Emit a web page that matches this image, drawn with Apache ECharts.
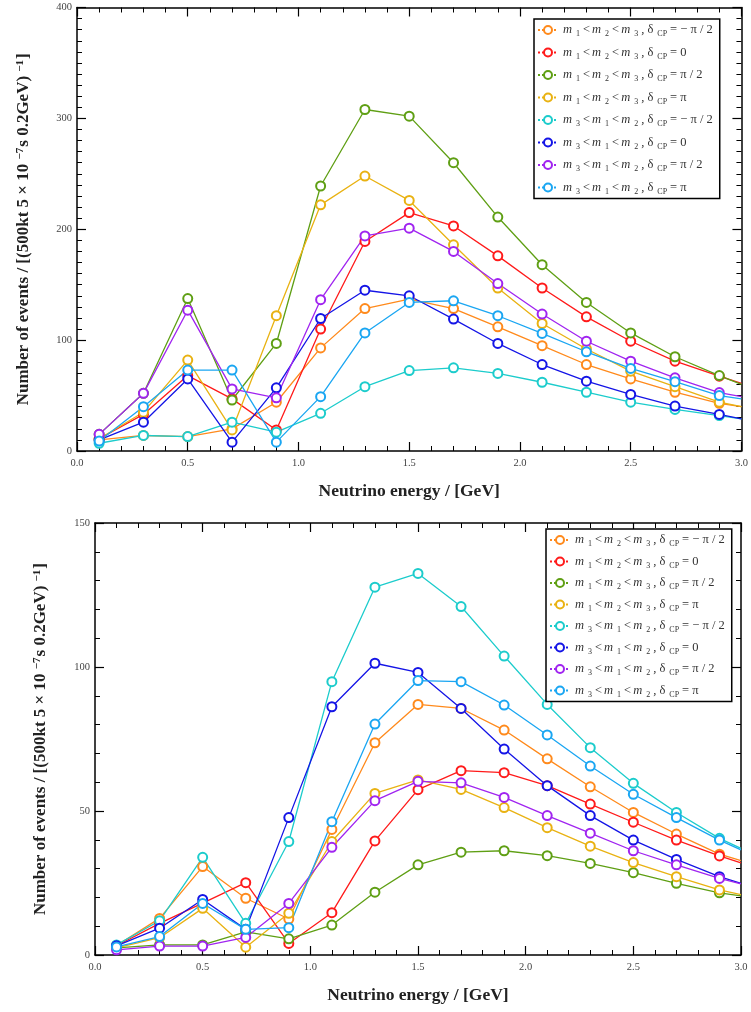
<!DOCTYPE html>
<html>
<head>
<meta charset="utf-8">
<script src="https://cdn.jsdelivr.net/npm/echarts@6/dist/echarts.min.js"></script>
<style>
  html, body { margin: 0; padding: 0; background: #ffffff; }
  #chart { width: 751px; height: 1012px; }
</style>
</head>
<body>
<div id="chart"></div>
<script>
// Energy bin centres (GeV); the final column is where each curve meets the 3.0 GeV edge.
const energy = [0.1, 0.3, 0.5, 0.7, 0.9, 1.1, 1.3, 1.5, 1.7, 1.9, 2.1, 2.3, 2.5, 2.7, 2.9, 3.0];

// Upper panel: event counts per 0.2 GeV bin
const upperNHminusHalfPi = [10, 14, 13, 20, 44, 93, 128.5, 137, 128.5, 112, 95, 78, 65, 53, 43, 40];
const upperNHzero        = [11, 33, 68, 47, 19, 110, 189, 215, 203, 176, 147, 121, 99, 81, 67.5, 61];
const upperNHhalfPi      = [15, 52, 137.5, 46, 97, 239, 308, 302, 260, 211, 168, 134, 106.5, 85, 68, 60];
const upperNHpi          = [11, 35, 82, 19, 122, 222, 248, 226, 186, 147, 115, 92, 72, 58, 44, 40];
const upperIHminusHalfPi = [7, 14, 13, 26, 17, 34, 58, 72.5, 75, 70, 62, 53, 44, 37.5, 32, 29];
const upperIHzero        = [10, 26, 65, 8, 57, 119.5, 145, 140, 119, 97, 78, 63, 51, 40.5, 33, 29];
const upperIHhalfPi      = [15, 52, 127, 56, 48, 136.5, 194, 201, 180, 151, 123.5, 99, 81, 66, 52.7, 49];
const upperIHpi          = [9, 40, 73, 73, 8, 49, 106.5, 134, 135.5, 122, 106, 89.5, 74.5, 62.5, 50, 47];

// Lower panel: event counts per 0.2 GeV bin
const lowerNHminusHalfPi = [3.3, 12.7, 30.7, 19.7, 12.5, 43.6, 73.7, 87, 85.6, 78.1, 68.1, 58.4, 49.5, 42, 35, 32.8];
const lowerNHzero        = [3.2, 11, 18, 25.1, 4, 14.7, 39.6, 57.4, 64, 63.3, 58.8, 52.4, 46.1, 39.9, 34.4, 32];
const lowerNHhalfPi      = [2.5, 3.5, 3.5, 8, 5.6, 10.4, 21.8, 31.3, 35.7, 36.2, 34.5, 31.8, 28.6, 24.9, 21.6, 20.5];
const lowerNHpi          = [2.5, 6, 16.2, 2.7, 14.5, 39.4, 56.1, 60.8, 57.5, 51.2, 44.2, 37.8, 32.1, 27.2, 22.6, 21];
const lowerIHminusHalfPi = [3.5, 11.9, 33.9, 11, 39.4, 94.9, 127.7, 132.5, 121, 103.8, 87, 72, 59.6, 49.5, 40.5, 37];
const lowerIHzero        = [3.2, 9.3, 19.3, 8.9, 47.7, 86.2, 101.3, 98.1, 85.6, 71.5, 58.8, 48.4, 39.9, 33.2, 27.2, 24.9];
const lowerIHhalfPi      = [1.8, 3.1, 3.1, 6.1, 17.9, 37.4, 53.6, 60.3, 59.8, 54.7, 48.4, 42.3, 36.2, 31.3, 26.6, 24.7];
const lowerIHpi          = [2.8, 6.4, 17.9, 8.9, 9.5, 46.3, 80.2, 95.3, 94.9, 86.8, 76.4, 65.6, 55.8, 47.7, 39.9, 36.5];

const seriesNames = ['NH -pi/2', 'NH 0', 'NH pi/2', 'NH pi', 'IH -pi/2', 'IH 0', 'IH pi/2', 'IH pi'];
const seriesColors = ['#ff8a1c', '#ff1a1a', '#5f9f14', '#e9b212', '#1ccccc', '#1414e6', '#a024f0', '#1aa6f2'];
const upperValues = [upperNHminusHalfPi, upperNHzero, upperNHhalfPi, upperNHpi,
                     upperIHminusHalfPi, upperIHzero, upperIHhalfPi, upperIHpi];
const lowerValues = [lowerNHminusHalfPi, lowerNHzero, lowerNHhalfPi, lowerNHpi,
                     lowerIHminusHalfPi, lowerIHzero, lowerIHhalfPi, lowerIHpi];

const xTickLabels = ['0.0', '0.5', '1.0', '1.5', '2.0', '2.5', '3.0'];
const serif = 'Liberation Serif, Times New Roman, serif';

// Legend entries: mass ordering and CP phase, written with rich text subscripts
const orderingNH = '{m|m}{s| 1}{t|<}{m|m}{s| 2}{t|<}{m|m}{s| 3}{t|, δ}{s|CP}';
const orderingIH = '{m|m}{s| 3}{t|<}{m|m}{s| 1}{t|<}{m|m}{s| 2}{t|, δ}{s|CP}';
const phaseText = ['{t|= − π / 2}', '{t|= 0}', '{t|= π / 2}', '{t|= π}'];
function legendLabel(name) {
  const i = seriesNames.indexOf(name);
  return (i < 4 ? orderingNH : orderingIH) + phaseText[i % 4];
}

function buildSeries(values, axisIndex) {
  return values.map((vals, i) => ({
    name: seriesNames[i],
    type: 'line',
    xAxisIndex: axisIndex,
    yAxisIndex: axisIndex,
    symbol: 'emptyCircle',
    symbolSize: 9,
    showSymbol: true,
    data: vals.map((v, k) => k === vals.length - 1
      ? { value: [energy[k], v], symbol: 'none' }
      : [energy[k], v]),
    lineStyle: { color: seriesColors[i], width: 1.3 },
    itemStyle: { color: seriesColors[i], borderColor: seriesColors[i], borderWidth: 1.6 },
    emphasis: { disabled: true }
  }));
}

const tickStyle = {
  axisLine: { show: true, onZero: false, lineStyle: { color: '#000', width: 1.5 } },
  axisTick: { show: true, inside: true, length: 9, lineStyle: { color: '#000', width: 1.2 } },
  splitLine: { show: false }
};

function xAxes(gridIndex, nameGap) {
  const common = Object.assign({
    type: 'value', gridIndex, min: 0, max: 3, interval: 0.5,
    minorTick: { show: true, splitNumber: 5, length: 5, lineStyle: { color: '#000', width: 1 } }
  }, tickStyle);
  return [
    Object.assign({}, common, {
      position: 'bottom',
      name: 'Neutrino energy / [GeV]',
      nameLocation: 'middle',
      nameGap,
      nameTextStyle: { fontFamily: serif, fontWeight: 'bold', fontSize: 17.5, color: '#222' },
      axisLabel: { show: true, margin: 7, fontFamily: serif, fontSize: 10.5, color: '#444',
                   formatter: v => xTickLabels[Math.round(v * 2)] }
    }),
    Object.assign({}, common, { position: 'top', axisLabel: { show: false } })
  ];
}

function yAxes(gridIndex, max, interval, minorSplit, nameGap) {
  const common = Object.assign({
    type: 'value', gridIndex, min: 0, max, interval,
    minorTick: { show: true, splitNumber: minorSplit, length: 5, lineStyle: { color: '#000', width: 1 } }
  }, tickStyle);
  return [
    Object.assign({}, common, {
      position: 'left',
      name: 'Number of events / [(500kt 5 × 10 {sup|−7}s 0.2GeV) ' + '{sup|−1}]',
      nameLocation: 'middle',
      nameGap,
      nameRotate: 90,
      nameTextStyle: {
        fontFamily: serif, fontWeight: 'bold', fontSize: 17, color: '#222',
        rich: { sup: { fontFamily: serif, fontWeight: 'bold', fontSize: 11, color: '#222', verticalAlign: 'top', padding: [0, 1, 6, 0] } }
      },
      axisLabel: { show: true, margin: 5, fontFamily: serif, fontSize: 10.5, color: '#444' }
    }),
    Object.assign({}, common, { position: 'right', axisLabel: { show: false } })
  ];
}

function legendBox(left, top, gap) {
  return {
    show: true,
    orient: 'vertical',
    left, top,
    data: seriesNames,
    backgroundColor: '#fff',
    borderColor: '#000',
    borderWidth: 1.5,
    padding: [4, 5, 3, 3],
    itemGap: gap,
    itemWidth: 20,
    itemHeight: 10,
    selectedMode: false,
    lineStyle: { type: 'dotted', width: 2 },
    itemStyle: { borderWidth: 2 },
    formatter: legendLabel,
    textStyle: {
      fontFamily: serif, fontSize: 12.5, color: '#333',
      rich: {
        t: { fontFamily: serif, fontSize: 12.5, color: '#333', lineHeight: 16, padding: [0, 2, 0, 2] },
        m: { fontFamily: serif, fontStyle: 'italic', fontSize: 12.5, color: '#333', lineHeight: 16 },
        s: { fontFamily: serif, fontSize: 8, color: '#333', verticalAlign: 'bottom', lineHeight: 16, padding: [7, 1, 0, 2] }
      }
    }
  };
}

const chart = echarts.init(document.getElementById('chart'), null, { renderer: 'canvas' });
chart.setOption({
  animation: false,
  backgroundColor: '#ffffff',
  grid: [
    { left: 77, top: 7.5, right: 9.5, height: 443.5 },
    { left: 95, top: 523, right: 10, height: 432 }
  ],
  xAxis: [...xAxes(0, 31), ...xAxes(1, 31)],
  yAxis: [...yAxes(0, 400, 100, 10, 45), ...yAxes(1, 150, 50, 5, 46)],
  legend: [legendBox(534, 19, 7.5), legendBox(546, 529, 6.5)],
  series: [...buildSeries(upperValues, 0), ...buildSeries(lowerValues, 2)]
});
</script>
</body>
</html>
